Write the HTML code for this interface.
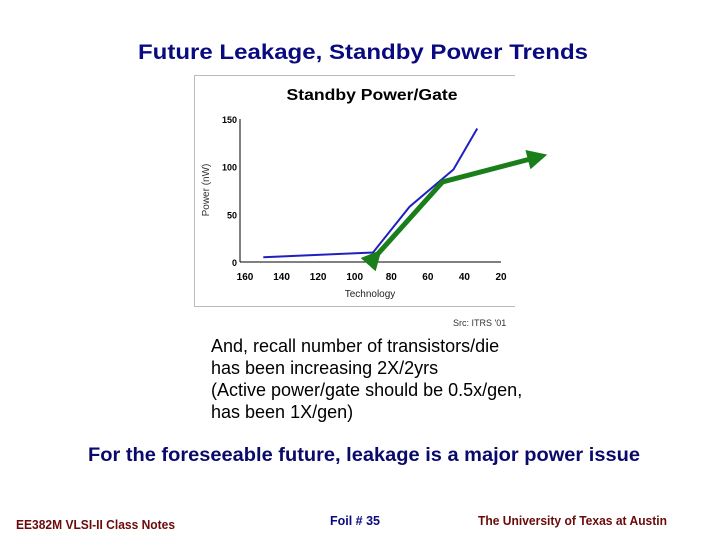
<!DOCTYPE html>
<html><head><meta charset="utf-8"><style>
body{margin:0;background:#fff;}
#wrap{position:relative;width:720px;height:540px;overflow:hidden;font-family:"Liberation Sans",sans-serif;}
.t{position:absolute;color:#000;white-space:nowrap;}
.fit{transform-origin:0 0;display:inline-block;}
</style></head><body>
<div id="wrap">
<svg id="chart" width="720" height="540" style="position:absolute;left:0;top:0">
<defs>
<marker id="ah" markerWidth="4" markerHeight="4" refX="2" refY="2" orient="auto" markerUnits="strokeWidth"><path d="M0,0 L4,2 L0,4 z" fill="#1a7f1a"/></marker>
</defs>
</svg>
<div class="t fit" data-w="450" style="left:138px;top:41px;font-size:21px;font-weight:bold;color:#0a0a80;">Future Leakage, Standby Power Trends</div>
<div class="t" style="left:453px;top:318px;font-size:9px;color:#333;">Src: ITRS '01</div>
<div class="t" style="left:211px;top:335px;font-size:18px;line-height:22px;">And, recall number of transistors/die<br>has been increasing 2X/2yrs<br>(Active power/gate should be 0.5x/gen,<br>has been 1X/gen)</div>
<div class="t fit" data-w="552" style="left:88px;top:445px;font-size:19px;font-weight:bold;color:#0a0a6a;">For the foreseeable future, leakage is a major power issue</div>
<div class="t fit" data-w="159" style="left:16px;top:517px;font-size:13px;font-weight:bold;color:#6a0a0a;">EE382M VLSI-II Class Notes</div>
<div class="t fit" data-w="50" style="left:330px;top:513px;font-size:13px;font-weight:bold;color:#0a0a80;">Foil # 35</div>
<div class="t fit" data-w="189" style="left:478px;top:513px;font-size:13px;font-weight:bold;color:#6a0a0a;">The University of Texas at Austin</div>
</div>
<script>
const xTicks=[160,140,120,100,80,60,40,20];
const yTicks=[0,50,100,150];
const techNodes=[150,90,70,46,33];
const powerValues=[5,10,58,97,140];
const trendX=[89,52,0];
const trendY=[5,84,110];
const NS='http://www.w3.org/2000/svg';
const svg=document.getElementById('chart');
const X=v=>245+(160-v)/140*256;
const Y=v=>262-v/150*143;
function mk(tag,attrs,txt){const e=document.createElementNS(NS,tag);for(const k in attrs)e.setAttribute(k,attrs[k]);if(txt!==undefined)e.textContent=txt;svg.appendChild(e);return e;}
let e;
e=mk('rect',{x:194.5,y:75.5,width:330,height:231,fill:'#fff',stroke:'#bbb'});


e=mk('rect',{x:515,y:74,width:20,height:234,fill:'#fff'});


e=mk('text',{x:372,y:100,'font-size':16,'font-weight':'bold','text-anchor':'middle','font-family':'Liberation Sans',textLength:171,lengthAdjust:'spacingAndGlyphs'},'Standby Power/Gate');


e=mk('line',{x1:240,y1:262,x2:501,y2:262,stroke:'#000','stroke-width':1});


e=mk('line',{x1:240,y1:119,x2:240,y2:262,stroke:'#000','stroke-width':1});


xTicks.forEach(v=>{e=mk('text',{x:X(v),y:280,'font-size':10,'font-weight':'bold','text-anchor':'middle','font-family':'Liberation Sans'},v);

});
yTicks.forEach(v=>{e=mk('text',{x:237,y:Y(v)+4,'font-size':9,'font-weight':'bold','text-anchor':'end','font-family':'Liberation Sans'},v);

});
e=mk('text',{x:370,y:297,'font-size':10,'text-anchor':'middle','font-family':'Liberation Sans',fill:'#222'},'Technology');


e=mk('text',{x:0,y:0,'font-size':10,'text-anchor':'middle','font-family':'Liberation Sans',fill:'#333',transform:'translate(209,190) rotate(-90)'},'Power (nW)');


e=mk('polyline',{points:techNodes.map((t,i)=>X(t)+','+Y(powerValues[i])).join(' '),fill:'none',stroke:'#2020c0','stroke-width':2});


e=mk('polyline',{points:trendX.map((t,i)=>X(t)+','+Y(trendY[i])).join(' '),fill:'none',stroke:'#1a7f1a','stroke-width':5,'stroke-linejoin':'round','marker-end':'url(#ah)','marker-start':'url(#ah)'});


document.querySelectorAll('.fit').forEach(el=>{const w=el.getBoundingClientRect().width;const target=+el.dataset.w;if(w>0)el.style.transform='scaleX('+(target/w)+')';});
</script>
</body></html>
